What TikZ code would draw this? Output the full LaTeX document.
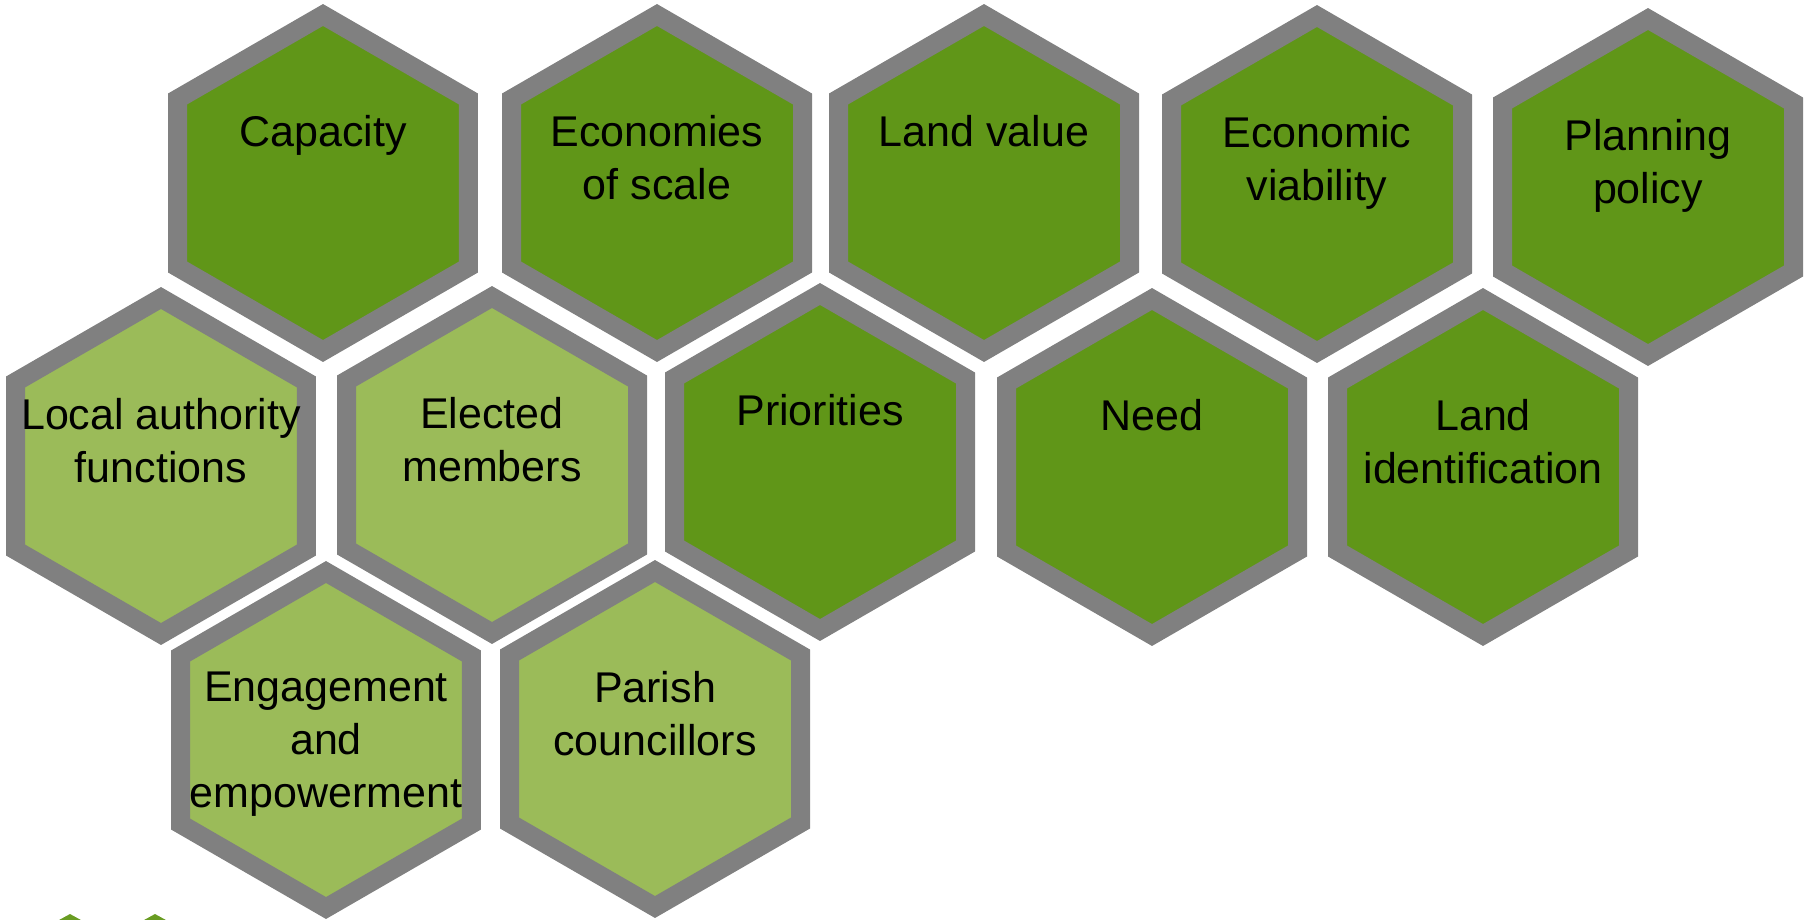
\documentclass[tikz,border=0pt]{standalone}
\usepackage{fontspec}
\setmainfont{Liberation Sans}
\usetikzlibrary{shapes.geometric,positioning}
\definecolor{hexdark}{RGB}{96,150,24}
\definecolor{hexlight}{RGB}{155,187,89}
\definecolor{hexrim}{RGB}{128,128,128}
\tikzstyle{hex}=[regular polygon,regular polygon sides=6,shape border rotate=30,
  minimum size=336pt,inner sep=0pt,outer sep=0pt,draw=hexrim,line width=19pt,line join=miter]
\tikzstyle{darkhex}=[hex,fill=hexdark]
\tikzstyle{lighthex}=[hex,fill=hexlight]
\tikzstyle{caption}=[anchor=north,align=center,inner sep=0pt,font=\fontsize{43}{53}\selectfont]

\begin{document}
\begin{tikzpicture}[x=1pt,y=-1pt]
  \useasboundingbox (0,0) rectangle (1806,919);

  \node[darkhex] (capacity) at (323,183) {};
  \node[darkhex] (economies) at (657,183) {};
  \node[darkhex] (landvalue) at (984,183) {};
  \node[darkhex] (viability) at (1317,184) {};
  \node[darkhex] (planning) at (1648,187) {};

  \node[lighthex] (functions) at (161,466) {};
  \node[lighthex] (members) at (492,465) {};
  \node[darkhex] (priorities) at (820,462) {};
  \node[darkhex] (need) at (1152,467) {};
  \node[darkhex] (landid) at (1483,467) {};

  \node[lighthex] (engagement) at (326,740) {};
  \node[lighthex] (parish) at (655,739) {};

  \node[caption,below=100pt of capacity.north] {Capacity};
  \node[caption,below=100pt of economies.north] {Economies\\of scale};
  \node[caption,below=100pt of landvalue.north] {Land value};
  \node[caption,below=100pt of viability.north] {Economic\\viability};
  \node[caption,below=100pt of planning.north] {Planning\\policy};
  \node[caption,below=100pt of functions.north] {Local authority\\functions};
  \node[caption,below=100pt of members.north] {Elected\\members};
  \node[caption,below=100pt of priorities.north] {Priorities};
  \node[caption,below=100pt of need.north] {Need};
  \node[caption,below=100pt of landid.north] {Land\\identification};
  \node[caption,below=100pt of engagement.north] {Engagement\\and\\empowerment};
  \node[caption,below=100pt of parish.north] {Parish\\councillors};

  \foreach \x in {70,155}
    \fill[hexdark!85!hexlight] (\x,914) -- ++(20,11) -- ++(0,23) -- ++(-20,11)
      -- ++(-20,-11) -- ++(0,-23) -- cycle;
\end{tikzpicture}
\end{document}
